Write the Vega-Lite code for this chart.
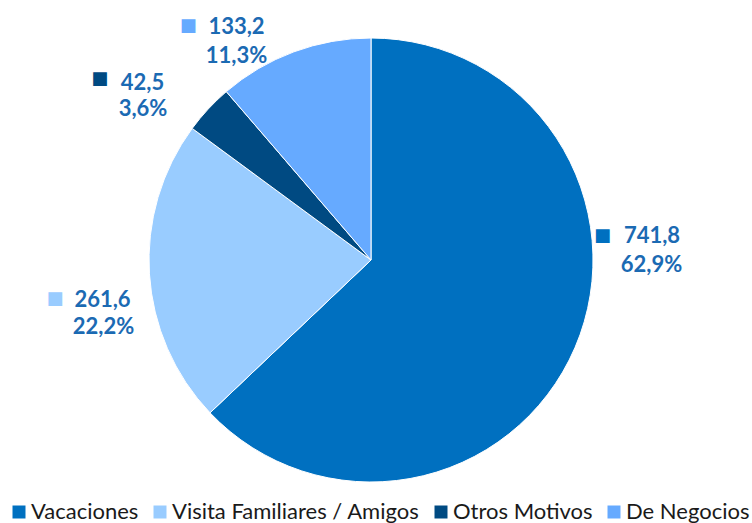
{
  "$schema": "https://vega.github.io/schema/vega-lite/v6.json",
  "width": 742,
  "height": 520,
  "padding": {"left": 0, "top": 0, "right": 10, "bottom": 3},
  "autosize": {"type": "none"},
  "data": {"values": [
    {"motivo": "Vacaciones", "valor": 741.8, "pct": 0.629, "orden": 1},
    {"motivo": "Visita Familiares / Amigos", "valor": 261.6, "pct": 0.222, "orden": 2},
    {"motivo": "Otros Motivos", "valor": 42.5, "pct": 0.036, "orden": 3},
    {"motivo": "De Negocios", "valor": 133.2, "pct": 0.113, "orden": 4}
  ]},
  "encoding": {
    "theta": {"field": "valor", "type": "quantitative", "stack": true},
    "order": {"field": "orden", "type": "quantitative"},
    "detail": {"field": "motivo", "type": "nominal"}
  },
  "layer": [
    {
      "mark": {"type": "arc", "outerRadius": 222, "stroke": "white", "strokeWidth": 1},
      "encoding": {
        "color": {"field": "motivo", "type": "nominal",
          "scale": {"domain": ["Vacaciones", "Visita Familiares / Amigos", "Otros Motivos", "De Negocios"],
                    "range": ["#0070C0", "#99CCFF", "#004A82", "#66AAFF"]},
          "legend": {"title": null, "orient": "none", "legendX": 8, "legendY": 501, "direction": "horizontal",
                     "padding": 0,
                     "symbolType": "square", "symbolSize": 169, "symbolStrokeWidth": 0,
                     "labelFont": "Lato", "labelFontSize": 22, "labelColor": "#1a1a1a",
                     "labelOffset": 1, "columnPadding": 10, "labelLimit": 400}}
      }
    },
    {"mark": {"type": "text", "radius": 270, "dx": -16.6, "dy": -130.6, "font": "DejaVu Sans", "fontSize": 18, "color": "#0070C0", "align": "center", "baseline": "middle"},
     "encoding": {"text": {"condition": {"test": "datum.motivo === 'Vacaciones'", "value": "■"}, "value": ""}}},
    {"mark": {"type": "text", "radius": 270, "dx": 32.9, "dy": -130.6, "font": "Lato", "fontWeight": "bold", "fontSize": 22, "color": "#1B6AB3", "align": "center", "baseline": "middle"},
     "encoding": {"text": {"condition": {"test": "datum.motivo === 'Vacaciones'", "field": "valor", "type": "quantitative", "format": ".1f"}, "value": ""}}},
    {"mark": {"type": "text", "radius": 270, "dx": 32.4, "dy": -101.1, "font": "Lato", "fontWeight": "bold", "fontSize": 22, "color": "#1B6AB3", "align": "center", "baseline": "middle"},
     "encoding": {"text": {"condition": {"test": "datum.motivo === 'Vacaciones'", "field": "pct", "type": "quantitative", "format": ".1%"}, "value": ""}}},

    {"mark": {"type": "text", "radius": 270, "dx": -46.5, "dy": 22.6, "font": "DejaVu Sans", "fontSize": 18, "color": "#99CCFF", "align": "center", "baseline": "middle"},
     "encoding": {"text": {"condition": {"test": "datum.motivo === 'Visita Familiares / Amigos'", "value": "■"}, "value": ""}}},
    {"mark": {"type": "text", "radius": 270, "dx": 1, "dy": 23.6, "font": "Lato", "fontWeight": "bold", "fontSize": 22, "color": "#1B6AB3", "align": "center", "baseline": "middle"},
     "encoding": {"text": {"condition": {"test": "datum.motivo === 'Visita Familiares / Amigos'", "field": "valor", "type": "quantitative", "format": ".1f"}, "value": ""}}},
    {"mark": {"type": "text", "radius": 270, "dx": 2, "dy": 50.6, "font": "Lato", "fontWeight": "bold", "fontSize": 22, "color": "#1B6AB3", "align": "center", "baseline": "middle"},
     "encoding": {"text": {"condition": {"test": "datum.motivo === 'Visita Familiares / Amigos'", "field": "pct", "type": "quantitative", "format": ".1%"}, "value": ""}}},

    {"mark": {"type": "text", "radius": 270, "dx": -73.3, "dy": 2.6, "font": "DejaVu Sans", "fontSize": 18, "color": "#004A82", "align": "center", "baseline": "middle"},
     "encoding": {"text": {"condition": {"test": "datum.motivo === 'Otros Motivos'", "value": "■"}, "value": ""}}},
    {"mark": {"type": "text", "radius": 270, "dx": -30.5, "dy": 6.4, "font": "Lato", "fontWeight": "bold", "fontSize": 22, "color": "#1B6AB3", "align": "center", "baseline": "middle"},
     "encoding": {"text": {"condition": {"test": "datum.motivo === 'Otros Motivos'", "field": "valor", "type": "quantitative", "format": ".1f"}, "value": ""}}},
    {"mark": {"type": "text", "radius": 270, "dx": -30, "dy": 33.1, "font": "Lato", "fontWeight": "bold", "fontSize": 22, "color": "#1B6AB3", "align": "center", "baseline": "middle"},
     "encoding": {"text": {"condition": {"test": "datum.motivo === 'Otros Motivos'", "field": "pct", "type": "quantitative", "format": ".1%"}, "value": ""}}},

    {"mark": {"type": "text", "radius": 270, "dx": -88.9, "dy": 19.2, "font": "DejaVu Sans", "fontSize": 18, "color": "#66AAFF", "align": "center", "baseline": "middle"},
     "encoding": {"text": {"condition": {"test": "datum.motivo === 'De Negocios'", "value": "■"}, "value": ""}}},
    {"mark": {"type": "text", "radius": 270, "dx": -40.7, "dy": 20.2, "font": "Lato", "fontWeight": "bold", "fontSize": 22, "color": "#1B6AB3", "align": "center", "baseline": "middle"},
     "encoding": {"text": {"condition": {"test": "datum.motivo === 'De Negocios'", "field": "valor", "type": "quantitative", "format": ".1f"}, "value": ""}}},
    {"mark": {"type": "text", "radius": 270, "dx": -40.7, "dy": 49.2, "font": "Lato", "fontWeight": "bold", "fontSize": 22, "color": "#1B6AB3", "align": "center", "baseline": "middle"},
     "encoding": {"text": {"condition": {"test": "datum.motivo === 'De Negocios'", "field": "pct", "type": "quantitative", "format": ".1%"}, "value": ""}}}
  ],
  "config": {
    "view": {"stroke": null},
    "locale": {"number": {"decimal": ",", "thousands": ".", "grouping": [3], "currency": ["", ""]}}
  }
}
